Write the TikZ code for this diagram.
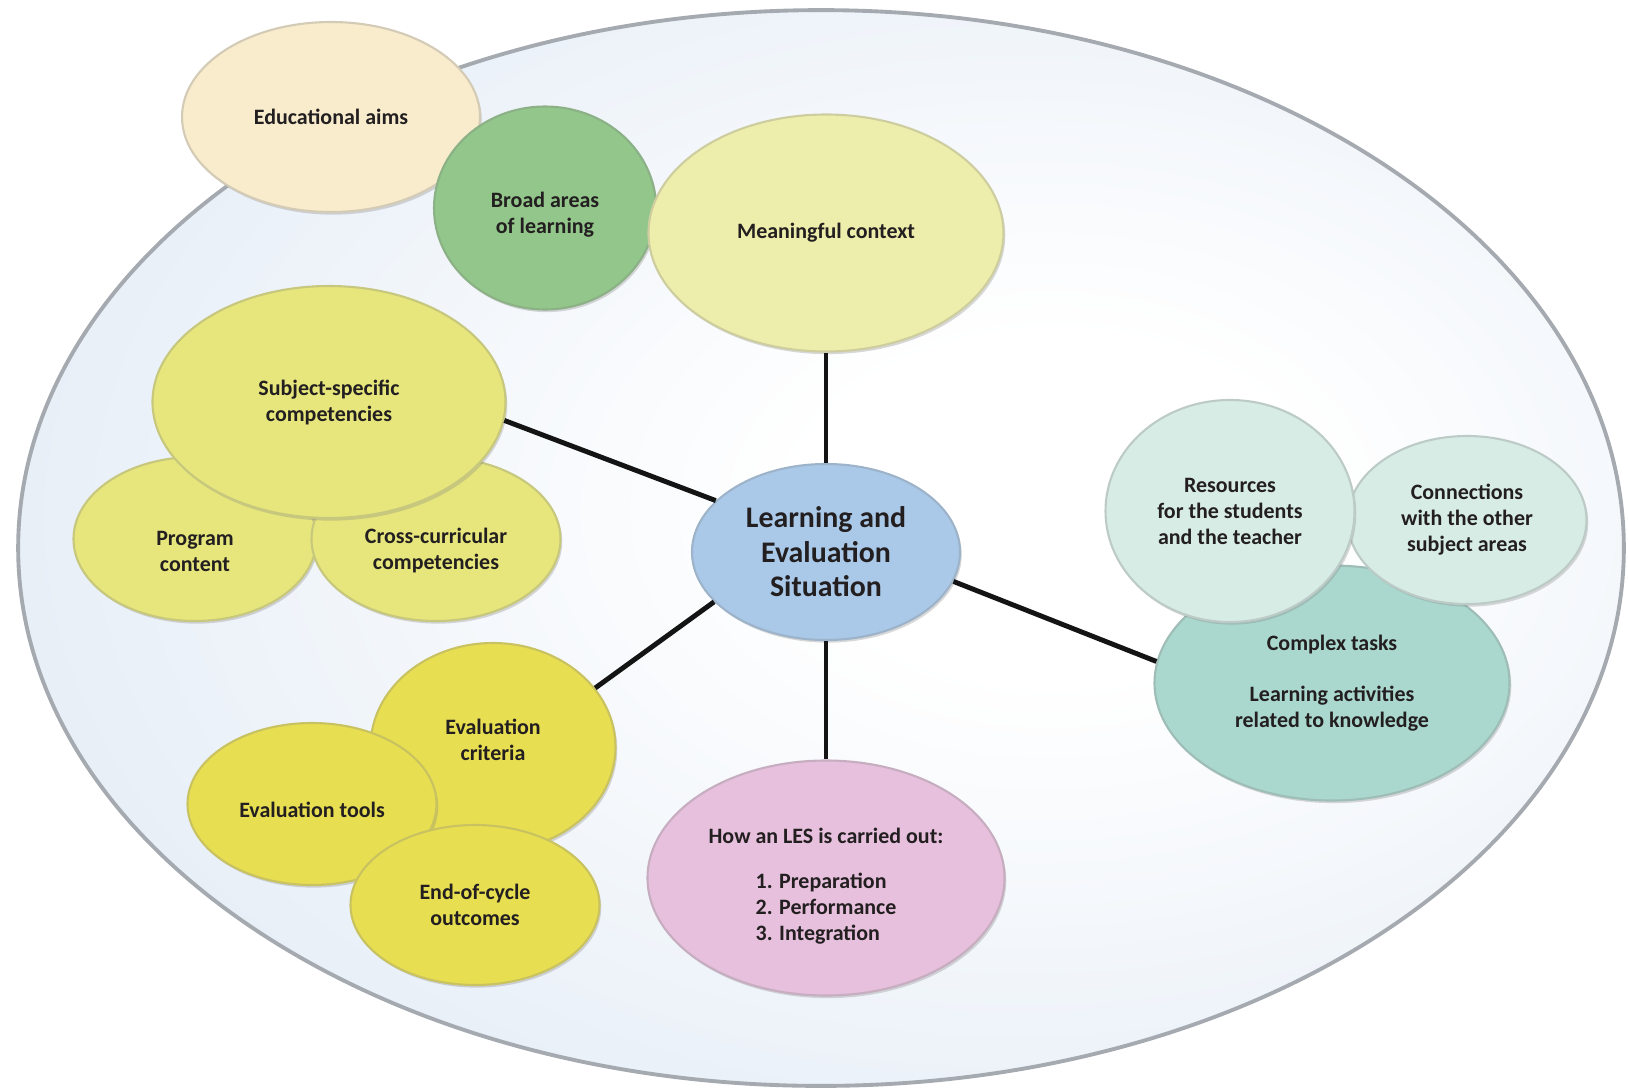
\documentclass[tikz,border=0pt]{standalone}
\usepackage{fontspec}
\newfontfamily\lesfont{Carlito}
\usetikzlibrary{shapes.geometric,shadows}
\definecolor{bgblue}{RGB}{216,228,242}
\definecolor{bgedge}{RGB}{165,169,176}
\definecolor{textcol}{RGB}{35,31,32}
\definecolor{linkcol}{RGB}{20,20,20}
\definecolor{aimscol}{RGB}{248,236,205}
\definecolor{broadcol}{RGB}{146,198,138}
\definecolor{contextcol}{RGB}{238,238,172}
\definecolor{compcol}{RGB}{230,230,124}
\definecolor{lescol}{RGB}{170,201,233}
\definecolor{rescol}{RGB}{216,236,230}
\definecolor{taskcol}{RGB}{170,216,206}
\definecolor{evalcol}{RGB}{232,222,82}
\definecolor{howcol}{RGB}{230,192,220}
\pgfdeclareradialshading{bgglow}{\pgfpoint{8bp}{2bp}}{color(0bp)=(white); color(8bp)=(white); color(46bp)=(bgblue); color(100bp)=(bgblue)}
\begin{document}
\begin{tikzpicture}[x=0.02cm,y=-0.02cm,thick,
    main node/.style={ellipse,inner sep=0pt,align=center,text=textcol,line width=1.2pt,
        font=\lesfont\bfseries\fontsize{12.5}{14.8}\selectfont,
        drop shadow={shadow xshift=1pt,shadow yshift=-1.5pt,opacity=0.3}},
    bubble/.style n args={3}{main node,fill=#1,draw=#1!70!gray,
        minimum width=#2*0.02cm,minimum height=#3*0.02cm}]

    \useasboundingbox (0,0) rectangle (1628,1089);
    \shadedraw[shading=bgglow,draw=bgedge,line width=2.2pt]
        (821,548) ellipse [x radius=16.06cm,y radius=10.76cm];

    \node[bubble={aimscol}{298}{190}] (aims) at (331,117) {Educational aims};
    \node[bubble={broadcol}{222}{203}] (broad) at (545,208) {\rule{0pt}{16pt}Broad areas\\of learning};
    \node[bubble={contextcol}{355}{237}] (context) at (826,233) {Meaningful context};

    \node[bubble={compcol}{243}{164}] (prog) at (195,539) {\rule{0pt}{22pt}Program\\content};
    \node[bubble={compcol}{249}{164}] (cross) at (436,539) {\rule{0pt}{22pt}Cross-curricular\\competencies};
    \node[bubble={compcol}{353}{232}] (subj) at (329,402) {Subject-specific\\competencies};

    \node[bubble={lescol}{268}{176},font=\lesfont\bfseries\fontsize{17}{19.6}\selectfont]
        (les) at (826,552) {Learning and\\Evaluation\\Situation};

    \node[bubble={taskcol}{355}{235}] (cplx) at (1332,683)
        {Complex tasks\\[14pt]Learning activities\\related to knowledge};
    \node[bubble={rescol}{239}{168}] (conn) at (1467,520) {Connections\\with the other\\subject areas};
    \node[bubble={rescol}{249}{222}] (res) at (1230,511) {Resources\\for the students\\and the teacher};

    \node[bubble={evalcol}{245}{208}] (crit) at (493,747) {Evaluation\\criteria\rule[-8pt]{0pt}{8pt}};
    \node[bubble={evalcol}{249}{162}] (tools) at (312,804) {\rule{0pt}{16pt}Evaluation tools};
    \node[bubble={evalcol}{249}{160}] (ecyc) at (475,905) {End-of-cycle\\outcomes};

    \node[bubble={howcol}{357}{235}] (how) at (826,878) {\rule{0pt}{20pt}How an LES is carried out:\\[14pt]%
        \begin{tabular}{@{}l@{}}1. Preparation\\2. Performance\\3. Integration\end{tabular}};

    \path[every edge/.style={draw=linkcol,line width=2.8pt}]
        (context.south) edge (les.north)
        (subj.-6) edge (les.155)
        (les.-13) edge (cplx.173)
        (les.204) edge (crit.30)
        (les.south) edge (how.north);

\end{tikzpicture}
\end{document}
